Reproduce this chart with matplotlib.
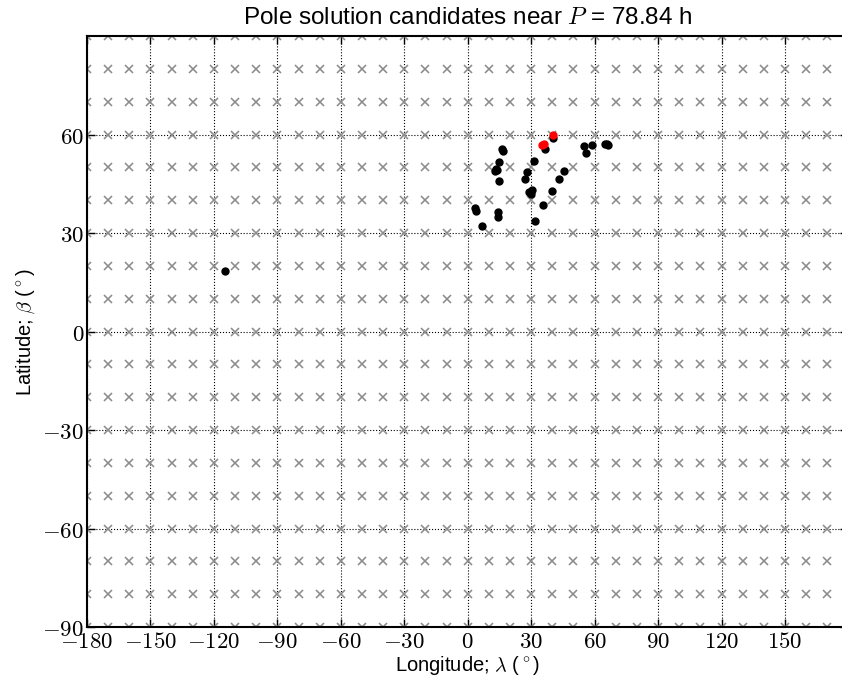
import numpy as np
import matplotlib
matplotlib.use("Agg")
import matplotlib.pyplot as plt
from matplotlib.ticker import FuncFormatter

plt.rcParams['font.family'] = ['Liberation Sans', 'DejaVu Sans']
plt.rcParams['mathtext.fontset'] = 'cm'

# Trial pole grid (degrees)
grid_lon = np.arange(-180, 180, 10)
grid_lat = np.arange(-90, 91, 10)

# Pole solutions found by the fit
sol_lon = [40.5, 36.5, 16.8, 16.2, 15.0, 13.7, 12.9, 13.2, 15.0, 31.3, 28.2, 27.1,
           30.3, 29.1, 29.8, 39.7, 43.3, 45.7, 35.7, 31.8, 55.0, 55.8, 58.6, 65.7,
           66.5, 64.9, 3.4, 3.9, 14.5, 14.5, 6.6, -114.8]
sol_lat = [59.0, 55.6, 55.1, 55.6, 51.6, 49.3, 48.8, 49.6, 45.7, 51.9, 48.6, 46.3,
           43.2, 42.5, 42.0, 42.7, 46.6, 49.0, 38.4, 33.6, 56.5, 54.4, 56.9, 57.2,
           56.7, 57.0, 37.6, 36.7, 36.4, 34.8, 32.1, 18.3]

# Best solutions
best_lon = [40.2, 35.0, 36.0]
best_lat = [60.0, 56.7, 57.2]

period = 78.84

fig = plt.figure(figsize=(8.42, 6.81), dpi=100)
ax = fig.add_axes([0.1033, 0.0793, 0.9044, 0.8678])

glon, glat = np.meshgrid(grid_lon, grid_lat)
ax.plot(glon.ravel(), glat.ravel(), 'x', color='#8c8c8c', ms=6, mew=1.15, zorder=2)
ax.plot(sol_lon, sol_lat, 'o', color='black', ms=5, mec='black', zorder=3)
ax.plot(best_lon, best_lat, 'o', color='red', ms=5, mec='red', zorder=4)

ax.set_xlim(-180, 180)
ax.set_ylim(-90, 90)
ax.set_xticks(np.arange(-180, 180, 30))
ax.set_yticks(np.arange(-90, 90, 30))
fmt = FuncFormatter(lambda v, pos: r'$%d$' % v)
ax.xaxis.set_major_formatter(fmt)
ax.yaxis.set_major_formatter(fmt)
ax.tick_params(direction='in', top=True, right=True, length=6, width=1,
               labelsize=16.5, pad=2)
ax.grid(True, color='black', linestyle=':', linewidth=0.8)
for s in ax.spines.values():
    s.set_linewidth(1.5)

ax.set_xlabel(r'Longitude; $\lambda$ ($^\circ$)', fontsize=14.5, labelpad=1)
ax.set_ylabel(r'Latitude; $\beta$ ($^\circ$)', fontsize=14.5, labelpad=4)
ax.set_title(r'Pole solution candidates near $P$ = %.2f h' % period, fontsize=17.5, pad=9)

fig.savefig('out.png', dpi=100)
